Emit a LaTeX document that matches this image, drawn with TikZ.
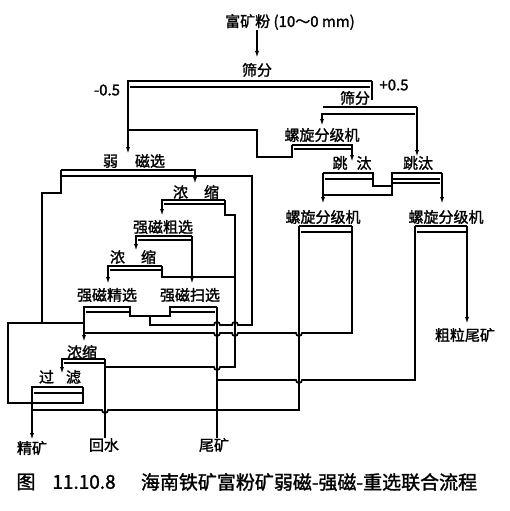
\documentclass[tikz,border=0pt]{standalone}
\usepackage{fontspec}
\setmainfont[AutoFakeBold=1.5]{Noto Sans CJK SC}
\usetikzlibrary{arrows.meta}
% small dips and bumps where a line running leftwards crosses a vertical
\newcommand\hp[2]{-- (#1+3,#2) arc[start angle=0,end angle=180,radius=3]}
\newcommand\hpu[2]{-- (#1+3,#2) arc[start angle=0,end angle=-180,radius=3]}

\begin{document}
\begin{tikzpicture}[x=1pt,y=-1pt,>={Latex[length=7pt,width=4pt]},line width=1.7pt,
    lbl/.style={font=\fontsize{15}{15}\selectfont\bfseries,inner sep=0pt},
    captxt/.style={font=\fontsize{19}{19}\selectfont\bfseries,inner sep=0pt}]
  \useasboundingbox (0,0) rectangle (509,511);
  % feed and first screen
  \node[lbl] (feed) at (290,22) {富矿粉 (10～0 mm)};
  \draw[->] (257,30) -- (257,58);
  \node[lbl] (scr1) at (257,70) {筛分};
  \draw[->] (372,81) -- (128,81) -- (128,154);
  \draw (372,81) -- (372,100);
  \draw (130,87) -- (370,87);
  \node[lbl] (minus) at (107,90) {-0.5};
  \node[lbl] (plus) at (394,85) {+0.5};
  % second screen
  \node[lbl] (scr2) at (355,98) {筛分};
  \draw (323,107) -- (417,107);
  \draw[->] (417,107) -- (417,157);
  \draw[->] (415,114) -- (322,114) -- (322,126);
  % spiral classifier after screen
  \node[lbl] (cls1) at (322,135) {螺旋分级机};
  \draw[->] (292,145) -- (352,145) -- (352,162);
  \draw (294,149) -- (352,149);
  \draw (292,145) -- (292,157) -- (257,157) -- (257,130) -- (128,130);
  % jigs
  \node[lbl] (jig1) at (352,163) {跳\hspace{9pt}汰};
  \node[lbl] (jig2) at (418,163) {跳汰};
  \draw (323,173) -- (373,173) -- (373,186) -- (392,186) -- (392,173) -- (442,173);
  \draw[->] (323,173) -- (323,204);
  \draw[->] (442,173) -- (442,204);
  \draw (325,179) -- (373,179);
  \draw (392,179) -- (440,179);
  \draw (392,183) -- (440,183);
  \draw (392,186) -- (392,195) -- (323,195);
  % dewatering and coarse classifiers
  \node[lbl] (cls2) at (323,217) {螺旋分级机};
  \draw (299,226) -- (352,226);
  \draw (301,232) -- (352,232);
  \node[lbl] (cls3) at (446,217) {螺旋分级机};
  \draw (415,226) -- (467,226);
  \draw (417,232) -- (467,232);
  \draw[->] (467,226) -- (467,324);
  \node[lbl] (coarse) at (465,335) {粗粒尾矿};
  % weak magnetic separation
  \node[lbl] (lims) at (134,161) {弱\hspace{17pt}磁选};
  \draw[->] (61,170) -- (195,170) -- (195,184);
  \draw (61,170) -- (61,193) -- (42,193) -- (42,323);
  \draw (62,176) -- (252,176) -- (252,325) \hpu{235}{325} \hpu{217}{325} -- (150,325) -- (150,316);
  % first thickener
  \node[lbl] (thk1) at (196,192) {浓\hspace{16pt}缩};
  \draw[->] (225,200) -- (162,200) -- (162,216);
  \draw (164,204) -- (225,204);
  \draw (225,200) -- (225,215) -- (235,215) -- (235,367) \hp{217}{367} -- (105,367);
  % rougher
  \node[lbl] (rough) at (163,227) {强磁粗选};
  \draw[->] (192,236) -- (136,236) -- (136,251);
  \draw[->] (192,236) -- (192,284);
  \draw (138,240) -- (192,240);
  % second thickener
  \node[lbl] (thk2) at (133,257) {浓\hspace{16pt}缩};
  \draw[->] (162,266) -- (108,266) -- (108,284);
  \draw (110,270) -- (162,270);
  \draw (162,266) -- (162,277) -- (235,277);
  % cleaner and scavenger
  \node[lbl] (clean) at (107,295) {强磁精选};
  \node[lbl] (scav) at (190,295) {强磁扫选};
  \draw[->] (217,307) -- (170,307) -- (170,316) -- (130,316) -- (130,307) -- (84,307) -- (84,342);
  \draw (217,307) -- (217,438);
  \draw (86,312) -- (130,312);
  \draw (170,312) -- (215,312);
  % lines to the concentrate thickener
  \draw (352,226) -- (352,333) \hp{299}{333} \hp{235}{333} \hp{217}{333} -- (84,333);
  \draw (415,226) -- (415,380) \hp{299}{380} -- (217,380);
  \draw (299,226) -- (299,410) \hp{105}{410} -- (32,410);
  % concentrate thickener and filter
  \node[lbl] (thk3) at (82,352) {浓缩};
  \draw[->] (105,359) -- (62,359) -- (62,374);
  \draw (64,363) -- (105,363);
  \draw (105,359) -- (105,438);
  \node[lbl] (filt) at (60,377) {过\hspace{12pt}滤};
  \draw[->] (83,387) -- (32,387) -- (32,440);
  \draw (34,393) -- (83,393);
  \draw (83,387) -- (83,403) -- (8,403) -- (8,323) -- (84,323);
  % products
  \node[lbl] (conc) at (32,448) {精矿};
  \node[lbl] (water) at (104,445) {回水};
  \node[lbl] (tail) at (214,445) {尾矿};
  % caption
  \node[captxt] (fig) at (26,482) {图};
  \node[captxt] (num) at (84,482) {11.10.8};
  \node[captxt] (title) at (309,482) {海南铁矿富粉矿弱磁-强磁-重选联合流程};
\end{tikzpicture}
\end{document}
